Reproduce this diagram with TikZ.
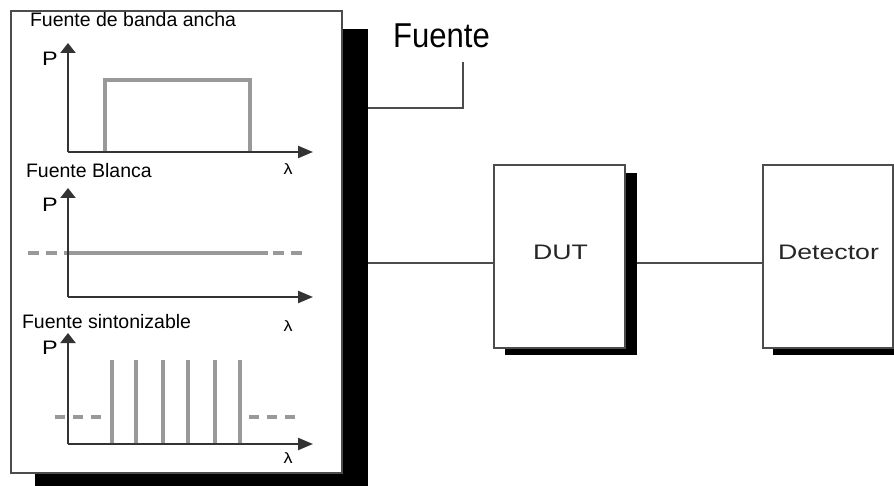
\documentclass[tikz,border=0pt]{standalone}
\usepackage{fontspec}
\setmainfont{Liberation Sans}
\usetikzlibrary{arrows.meta}

\definecolor{curve}{gray}{0.6}
\definecolor{axisc}{gray}{0.2}
\definecolor{frame}{gray}{0.3}

\tikzset{
  every node/.style={inner sep=0pt, outer sep=0pt},
  blockbox/.style={draw=frame, line width=1.8pt, fill=white, rectangle},
  shadowbox/.style={fill=black, rectangle},
  axisline/.style={draw=axisc, line width=2.2pt},
  yaxis/.style={axisline, -{Triangle[length=10pt,width=15pt]}},
  xaxis/.style={axisline, -{Triangle[length=15pt,width=12pt]}},
  spectrum/.style={draw=curve, line width=3.2pt},
  floor/.style={spectrum, dash pattern=on 11pt off 7pt},
  caption/.style={font=\fontsize{19.5}{20}\selectfont, anchor=base west},
  axislabel/.style={font=\fontsize{19.5}{20}\selectfont, xscale=1.2},
  wavelabel/.style={font=\fontsize{15}{16}\selectfont, xscale=1.2},
  wire/.style={draw=frame, line width=1.6pt},
}

\begin{document}
\begin{tikzpicture}[x=1pt, y=-1pt]
  \useasboundingbox (0,0) rectangle (894,486);
  \clip (0,0) rectangle (894,486);

  % source panel with its drop shadow
  \node[shadowbox, minimum width=333pt, minimum height=462pt] (srcshadow) at (201.5,260) {};
  \node[blockbox, minimum width=331pt, minimum height=462pt] (src) at (176.5,242) {};

  % broadband source
  \node[caption] (cap1) at (30,27) {Fuente de banda ancha};
  \draw[spectrum] (105,152) -- (105,80) -- (250,80) -- (250,152);
  \draw[yaxis] (68,152) -- (68,43);
  \draw[xaxis] (68,152) -- (313,152);
  \node[axislabel] (p1) at (50,58.5) {P};
  \node[wavelabel] (l1) at (288,169) {λ};

  % white source
  \node[caption] (cap2) at (26,178) {Fuente Blanca};
  \draw[floor] (28,253) -- (68,253);
  \draw[spectrum] (68,253) -- (268,253);
  \draw[floor] (273,253) -- (302,253);
  \draw[yaxis] (68,297) -- (68,188);
  \draw[xaxis] (68,297) -- (313,297);
  \node[axislabel] (p2) at (50,205) {P};
  \node[wavelabel] (l2) at (288,326) {λ};

  % tunable source
  \node[caption] (cap3) at (22,328) {Fuente sintonizable};
  \foreach \x in {112,136,163,188,215,240}
    \draw[spectrum] (\x,444) -- (\x,360);
  \draw[floor, dash pattern=on 10pt off 8pt] (55,417) -- (102,417);
  \draw[floor, dash pattern=on 10pt off 8pt] (249,417) -- (297,417);
  \draw[yaxis] (68,444) -- (68,333);
  \draw[xaxis] (68,444) -- (313,444);
  \node[axislabel] (p3) at (50,348) {P};
  \node[wavelabel] (l3) at (288,458) {λ};

  % title of the source panel with its leader
  \node[font=\fontsize{34.5}{36}\selectfont, xscale=0.9, anchor=base] (title) at (441.5,48) {Fuente};
  \coordinate (tag) at (463,62);
  \coordinate (tagknee) at (463,108);
  \draw[wire] (tag) -- (tagknee) -- (srcshadow.east |- tagknee);

  % device under test
  \node[shadowbox, minimum width=132pt, minimum height=182pt] (dutshadow) at (571,264) {};
  \node[blockbox, minimum width=131pt, minimum height=183pt] (dut) at (559.5,256.5) {};
  \node[font=\fontsize{21}{22}\selectfont, xscale=1.27, anchor=base, text=black!85] (dutlabel) at (560.5,260) {DUT};

  % detector
  \node[shadowbox, minimum width=132pt, minimum height=182pt] (detshadow) at (839,264) {};
  \node[blockbox, minimum width=130pt, minimum height=183pt] (det) at (828,256.5) {};
  \node[font=\fontsize{21}{22}\selectfont, xscale=1.27, anchor=base, text=black!85] (detlabel) at (828.5,260) {Detector};

  % signal path
  \coordinate (link) at (0,263);
  \draw[wire] (srcshadow.east |- link) -- (dut.west |- link);
  \draw[wire] (dutshadow.east |- link) -- (det.west |- link);
\end{tikzpicture}
\end{document}
